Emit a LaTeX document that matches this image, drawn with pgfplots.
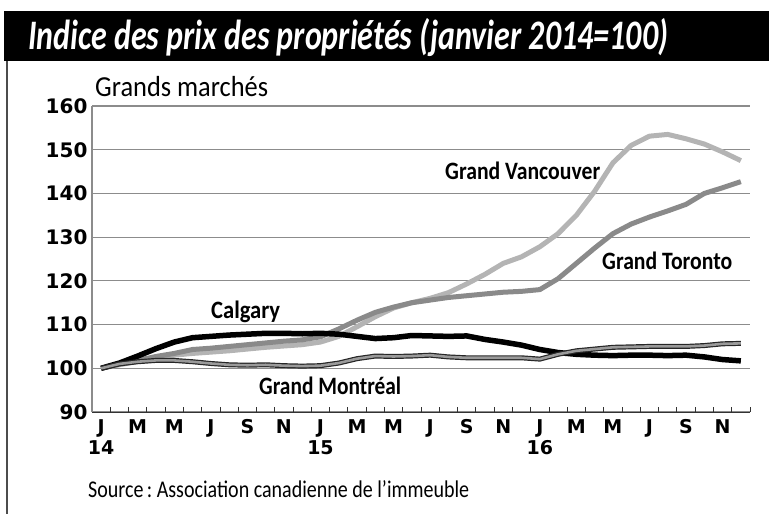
\documentclass[border=0pt]{standalone}
\usepackage{fontspec}
\setmainfont{Carlito}
\newfontfamily\tickfont{DejaVu Sans}
\usepackage{graphicx}
\usepackage{pgfplots}
\pgfplotsset{compat=1.18}
\definecolor{vanc}{HTML}{B4B4B4}
\definecolor{toro}{HTML}{8A8A8A}
\definecolor{gridc}{HTML}{8C8C8C}
\definecolor{montc}{HTML}{9A9A9A}
\begin{document}
\begin{tikzpicture}[x=1pt,y=1pt]
\useasboundingbox (0,0) rectangle (769,-514);
% title bar and frame
\fill[black] (4,-11) rectangle (769,-61);
\draw[line width=1.5pt,color=black!70] (7,-61) -- (7,-514);
\node[anchor=base west,inner sep=0pt,text=white] at (28,-49)
  {\resizebox{640pt}{\height}{\fontsize{42}{42}\selectfont\bfseries\itshape Indice des prix des propriétés (janvier 2014=100)}};
\begin{axis}[
  at={(92pt,-412pt)}, anchor=south west,
  width=658pt, height=306pt, scale only axis,
  xmin=-0.5, xmax=35.5, ymin=90, ymax=160,
  axis x line=bottom, axis y line=left,
  axis line style={-},
  x axis line style={color=black!80, line width=1pt},
  y axis line style={color=gridc, line width=1.2pt},
  ytick={90,100,...,160},
  ymajorgrids, grid style={color=gridc, line width=1.2pt},
  major y tick style={draw=none},
  xtick={0,2,...,34},
  xticklabels={J\\14,M,M,J,S,N,J\\15,M,M,J,S,N,J\\16,M,M,J,S,N},
  minor xtick={0.5,1.5,...,35.5},
  major x tick style={draw=none},
  minor x tick style={color=black!80, line width=0.8pt},
  tick align=inside, minor tick length=5pt,
  /pgf/number format/assume math mode=true,
  yticklabel style={font=\tickfont\bfseries\fontsize{20}{20}\selectfont, xshift=-1pt},
  xticklabel style={font=\tickfont\bfseries\fontsize{19}{21}\selectfont, align=center, yshift=-4pt},
  clip=false,
]
\addplot[color=vanc, line width=5pt, line join=round] coordinates {
(0,100) (1,100.8) (2,101.6) (3,102.3) (4,103) (5,103.4) (6,103.7) (7,104) (8,104.4) (9,104.8) (10,105.1) (11,105.4)
(12,106) (13,107.3) (14,109.5) (15,111.8) (16,113.8) (17,115) (18,116) (19,117.3) (20,119.3) (21,121.5) (22,124) (23,125.5)
(24,127.8) (25,130.8) (26,135) (27,140.5) (28,147) (29,151) (30,153.1) (31,153.5) (32,152.5) (33,151.3) (34,149.5) (35,147.5)};
\addplot[color=toro, line width=5pt, line join=round] coordinates {
(0,100) (1,101) (2,101.8) (3,102.7) (4,103.4) (5,104.3) (6,104.6) (7,105) (8,105.4) (9,105.8) (10,106.2) (11,106.5)
(12,107.2) (13,109) (14,111) (15,112.8) (16,114) (17,115) (18,115.6) (19,116.2) (20,116.6) (21,117) (22,117.4) (23,117.6)
(24,118) (25,120.5) (26,124) (27,127.5) (28,130.8) (29,133) (30,134.6) (31,136) (32,137.5) (33,140) (34,141.3) (35,142.7)};
\addplot[color=black, line width=5.5pt, line join=round] coordinates {
(0,100) (1,101.2) (2,102.8) (3,104.5) (4,106) (5,107) (6,107.3) (7,107.6) (8,107.8) (9,108) (10,108) (11,107.9)
(12,108) (13,107.8) (14,107.3) (15,106.8) (16,107) (17,107.5) (18,107.4) (19,107.3) (20,107.4) (21,106.6) (22,106) (23,105.3)
(24,104.3) (25,103.6) (26,103.2) (27,103) (28,102.9) (29,103) (30,103) (31,102.9) (32,103) (33,102.6) (34,102) (35,101.7)};
\addplot[color=black!85, line width=5pt, line join=round] coordinates {
(0,100) (1,101) (2,101.5) (3,101.8) (4,101.8) (5,101.5) (6,101.1) (7,100.8) (8,100.7) (9,100.8) (10,100.6) (11,100.5)
(12,100.6) (13,101.2) (14,102.2) (15,102.8) (16,102.7) (17,102.8) (18,103) (19,102.6) (20,102.4) (21,102.4) (22,102.4) (23,102.4)
(24,102.1) (25,103.2) (26,104) (27,104.4) (28,104.8) (29,104.9) (30,105) (31,105) (32,105) (33,105.2) (34,105.6) (35,105.7)};
\addplot[color=montc, line width=2.6pt, line join=round] coordinates {
(0,100) (1,101) (2,101.5) (3,101.8) (4,101.8) (5,101.5) (6,101.1) (7,100.8) (8,100.7) (9,100.8) (10,100.6) (11,100.5)
(12,100.6) (13,101.2) (14,102.2) (15,102.8) (16,102.7) (17,102.8) (18,103) (19,102.6) (20,102.4) (21,102.4) (22,102.4) (23,102.4)
(24,102.1) (25,103.2) (26,104) (27,104.4) (28,104.8) (29,104.9) (30,105) (31,105) (32,105) (33,105.2) (34,105.6) (35,105.7)};
\end{axis}
\node[anchor=base west,inner sep=0pt] at (95,-96)
  {\resizebox{173pt}{\height}{\fontsize{29}{29}\selectfont Grands marchés}};
\node[anchor=base west,inner sep=0pt] at (445,-179)
  {\resizebox{155pt}{\height}{\fontsize{25}{25}\selectfont\bfseries Grand Vancouver}};
\node[anchor=base west,inner sep=0pt] at (602,-269)
  {\resizebox{130pt}{\height}{\fontsize{25}{25}\selectfont\bfseries Grand Toronto}};
\node[anchor=base west,inner sep=0pt] at (211,-318)
  {\resizebox{69pt}{\height}{\fontsize{25}{25}\selectfont\bfseries Calgary}};
\node[anchor=base west,inner sep=0pt] at (259,-394)
  {\resizebox{142pt}{\height}{\fontsize{25}{25}\selectfont\bfseries Grand Montréal}};
\node[anchor=base west,inner sep=0pt] at (88,-497)
  {\resizebox{381pt}{\height}{\fontsize{24}{24}\selectfont Source\,:\ Association canadienne de l’immeuble}};
\end{tikzpicture}
\end{document}
